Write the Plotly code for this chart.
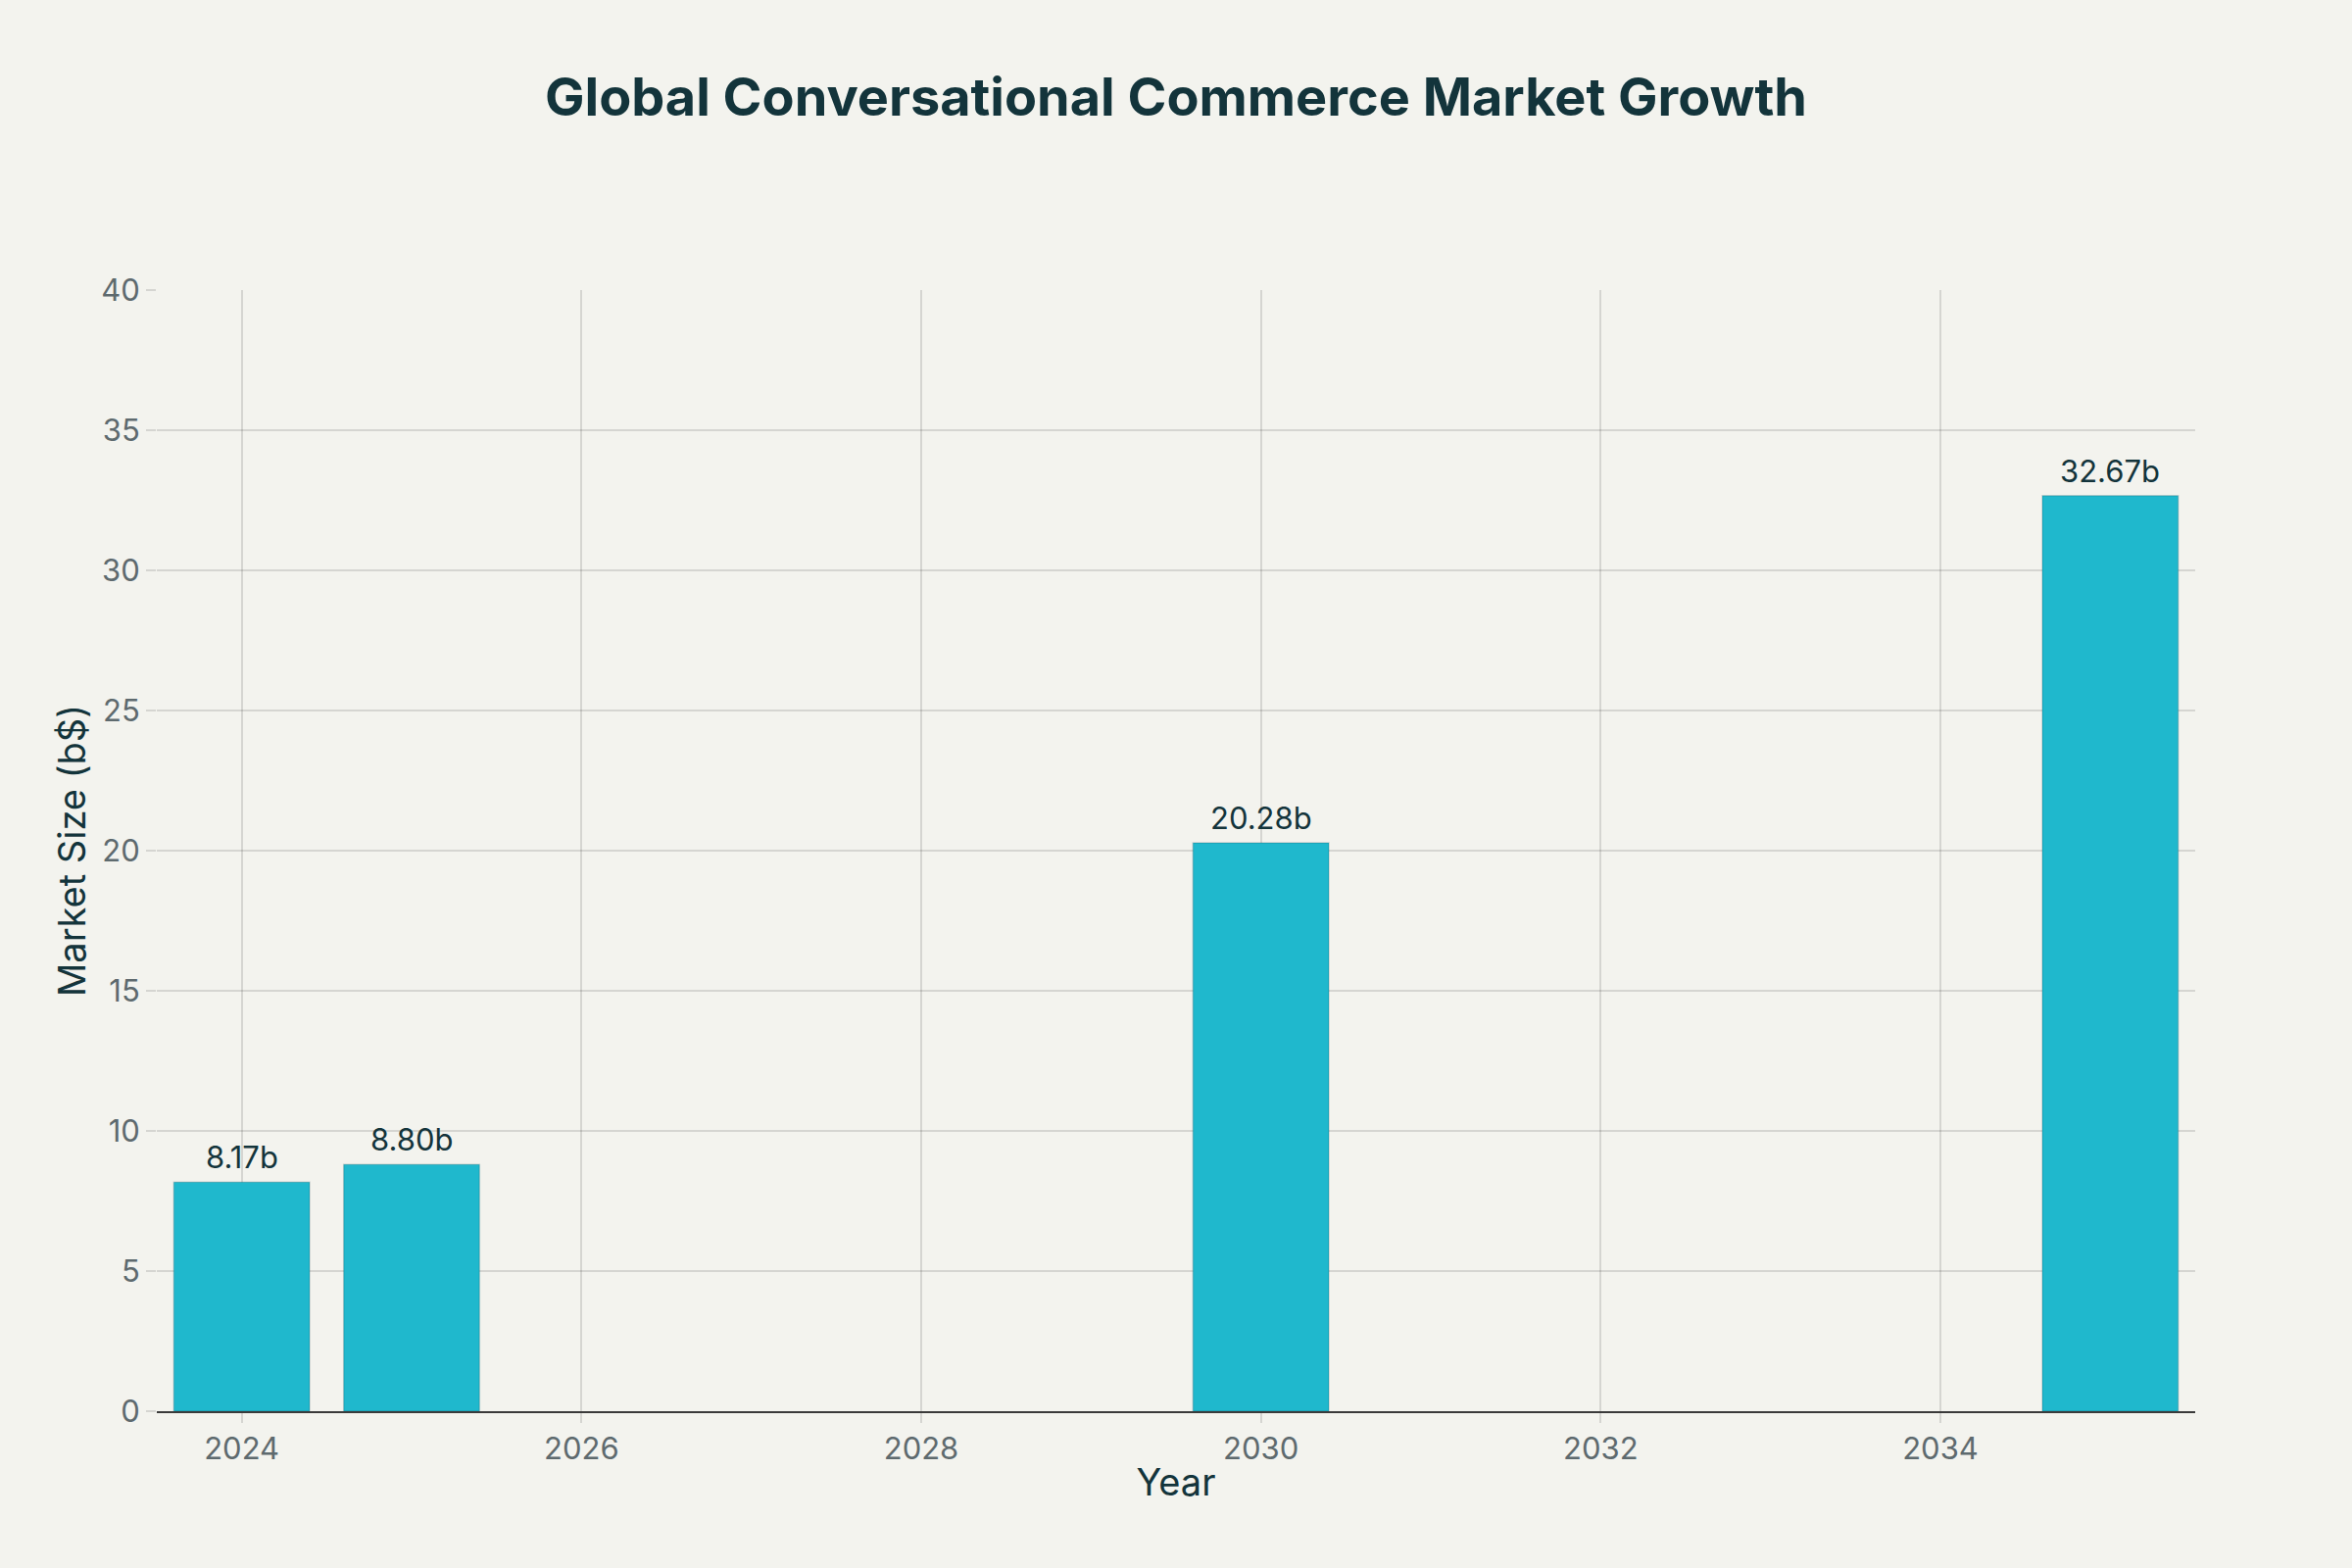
import plotly.graph_objects as go

years = [2024, 2025, 2030, 2035]
market_size = [8.17, 8.80, 20.28, 32.67]
labels = [f"{v:.2f}b" for v in market_size]

TITLE = "Global Conversational Commerce Market Growth"
X_TITLE = "Year"
Y_TITLE = "Market Size (b$)"

FONT = "Inter, 'Open Sans', sans-serif"

fig = go.Figure(
    go.Bar(
        x=years,
        y=market_size,
        marker=dict(color="#1FB8CD", line=dict(color="rgba(19,52,59,0.18)", width=1.5)),
        showlegend=False,
    )
)

for xv, yv, lab in zip(years, market_size, labels):
    fig.add_annotation(
        x=xv, y=yv, text=lab, showarrow=False,
        xref="x", yref="y", yanchor="bottom", yshift=5,
        font=dict(size=31, color="#13343B", family=FONT),
    )

fig.update_layout(
    width=2400,
    height=1600,
    paper_bgcolor="#F3F3EE",
    plot_bgcolor="#F3F3EE",
    font=dict(family=FONT, color="#13343B"),
    margin=dict(l=160, r=160, t=296, b=160),
    bargap=0.2,
    title=dict(
        text=TITLE,
        x=0.5,
        xanchor="center",
        y=1 - 99 / 1600,
        yref="container",
        yanchor="middle",
        font=dict(size=54, color="#13343B", family=FONT, weight="bold"),
    ),
    xaxis=dict(
        title=dict(text=X_TITLE, font=dict(size=38, color="#13343B"), standoff=4),
        range=[2023.5, 2035.5],
        dtick=2,
        tick0=2024,
        showgrid=True,
        gridcolor="rgba(0,0,0,0.12)",
        gridwidth=1.5,
        showline=True,
        linecolor="#3a3a3a",
        linewidth=2,
        ticks="outside",
        ticklen=10,
        tickwidth=1.5,
        tickcolor="rgba(0,0,0,0.12)",
        tickfont=dict(size=31, color="#5E6A6E"),
        zeroline=False,
    ),
    yaxis=dict(
        title=dict(text=Y_TITLE, font=dict(size=38, color="#13343B"), standoff=3),
        range=[0, 40],
        dtick=5,
        showgrid=True,
        gridcolor="rgba(0,0,0,0.12)",
        gridwidth=1.5,
        ticks="outside",
        ticklen=10,
        tickwidth=1.5,
        tickcolor="rgba(0,0,0,0.12)",
        tickfont=dict(size=31, color="#5E6A6E"),
        zeroline=False,
        showline=False,
    ),
)

fig.write_html("out.html")
